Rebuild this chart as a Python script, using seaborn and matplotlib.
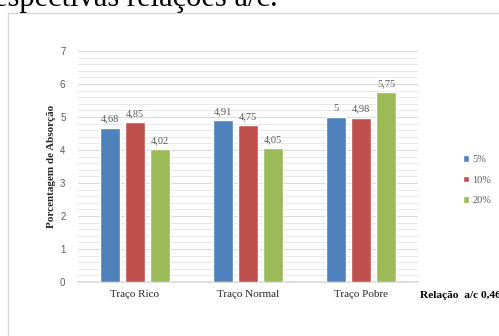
import matplotlib
matplotlib.use("Agg")
import matplotlib.pyplot as plt
from matplotlib.patches import Rectangle
from matplotlib.ticker import MultipleLocator
import seaborn as sns
import pandas as pd

categories = ["Traço Rico", "Traço Normal", "Traço Pobre"]
series = ["5%", "10%", "20%"]
values_5 = [4.68, 4.91, 5.00]
values_10 = [4.85, 4.75, 4.98]
values_20 = [4.02, 4.05, 5.75]
colors = ["#4F81BD", "#C0504D", "#9BBB59"]

rows = []
for s, vals in zip(series, [values_5, values_10, values_20]):
    for c, v in zip(categories, vals):
        rows.append({"traco": c, "teor": s, "valor": v})
df = pd.DataFrame(rows)

sns.set_theme(style="white")
plt.rcParams["font.family"] = ["Liberation Serif", "DejaVu Serif"]

fig = plt.figure(figsize=(4.99, 3.36), dpi=100)
ax = fig.add_axes([78 / 499, 1 - 282 / 336, 340 / 499, 231 / 336])

sns.barplot(data=df, x="traco", y="valor", hue="teor", order=categories,
            hue_order=series, palette=colors, width=0.66, gap=0.2,
            saturation=1, errorbar=None, ax=ax, zorder=3)

# value labels above the bars
for cont, vals in zip(ax.containers, [values_5, values_10, values_20]):
    labels = [("%g" % v).replace(".", ",") for v in vals]
    ax.bar_label(cont, labels=labels, padding=3, fontsize=7.5, color="#595959")

ax.set_ylim(0, 7)
ax.yaxis.set_major_locator(MultipleLocator(1))
ax.yaxis.set_minor_locator(MultipleLocator(0.2))
ax.grid(axis="y", which="major", color="#d9d9d9", linewidth=0.8, zorder=0)
ax.grid(axis="y", which="minor", color="#e8e8e8", linewidth=0.7, zorder=0)
ax.set_axisbelow(True)
for sp in ["top", "right", "left"]:
    ax.spines[sp].set_visible(False)
ax.spines["bottom"].set_color("#d9d9d9")
ax.tick_params(axis="y", which="both", length=0, labelsize=7, labelcolor="#595959", pad=9)
for lbl in ax.get_yticklabels():
    lbl.set_family("Liberation Sans")
ax.tick_params(axis="x", length=0, labelsize=8, labelcolor="#262626", pad=6)
ax.set_xlabel("")
ax.set_ylabel("Porcentagem de Absorção", fontsize=8, fontweight="bold",
              color="#262626", labelpad=3)

leg = ax.legend(loc="upper left", bbox_to_anchor=(458 / 499, 1 - 150 / 336),
                bbox_transform=fig.transFigure, frameon=False, fontsize=7.5,
                handlelength=0.6, handleheight=0.6, handletextpad=0.3,
                labelspacing=1.1, borderpad=0)
for t in leg.get_texts():
    t.set_color("#595959")

fig.text(420 / 499, 1 - 298 / 336, "Relação  a/c 0,46", fontsize=8.2,
         fontweight="bold", color="#000000", ha="left", va="baseline")

# frame around the chart area
fig.patches.append(Rectangle((8 / 499, -0.05), 1.0, 1 - 13 / 336 + 0.05,
                             transform=fig.transFigure, fill=False,
                             edgecolor="#d9d9d9", linewidth=1.0))

# caption line above the chart
fig.text(-0.012, 1 - 6 / 336, "espectivas relações a/c.", fontsize=22,
         color="#000000", ha="left", va="baseline")

fig.savefig("out.png", dpi=100)
